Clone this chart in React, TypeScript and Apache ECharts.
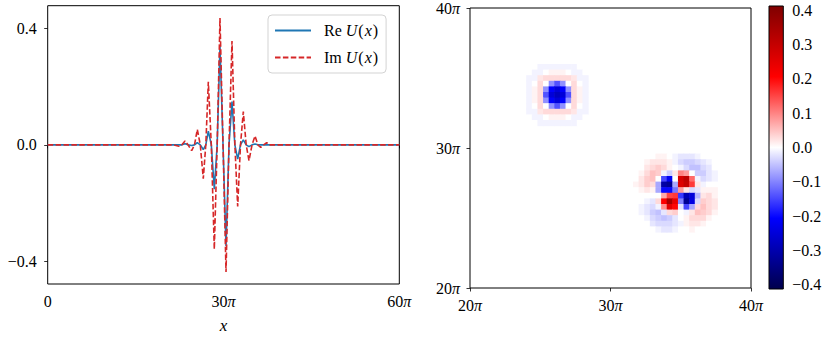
import React, { useEffect, useRef } from 'react';
import * as echarts from 'echarts';

// ---- line panel data (x in units of π) ----
const xPi = [0, 21.5, 22.4, 22.9, 23.43, 23.95, 24.57, 25.05, 25.53, 26.04, 26.55, 26.98, 27.41, 27.92, 28.43, 28.92, 29.4, 29.92, 30.43, 30.94, 31.45, 31.94, 32.42, 32.9, 33.38, 33.87, 34.35, 34.87, 35.38, 35.87, 36.35, 36.86, 37.37, 37.9, 38.5, 60];
const reU = [0, 0, 0, 0, 0.004, 0, -0.002, 0, 0.008, 0, -0.016, 0, 0.047, 0, -0.152, 0, 0.339, 0, -0.347, 0, 0.148, 0, -0.049, 0, 0.017, 0, -0.006, 0, 0.003, 0, 0, 0, 0, 0, 0, 0];
const imU = [0, 0, -0.005, 0, 0.013, 0, -0.02, 0, 0.053, 0, -0.116, 0, 0.216, 0, -0.358, 0, 0.435, 0, -0.436, 0, 0.356, 0, -0.211, 0, 0.114, 0, -0.054, 0, 0.03, 0, -0.009, 0, 0.008, 0, 0, 0];
const lineYTicks = [-0.4, 0, 0.4];
const lineYRange = [-0.477, 0.477];
const lineXRange = [0, 60];

// ---- map panel data (values in hundredths, grid step 0.4π) ----
const cellStep = 0.4;
const blobCenter = [26.2, 33.8];
const blobRows = [
  [0, 0, -1, -1, -1, -1, -1, -1, -1, 0, 0],
  [0, -1, -1, 0, 1, 1, 1, 0, -1, -1, 0],
  [-1, -1, 2, 3, 3, 3, 3, 3, 2, -1, -1],
  [-1, 0, 3, 0, -9, -14, -9, 0, 3, 0, -1],
  [-1, 1, 3, -9, -21, -25, -21, -9, 3, 1, -1],
  [-1, 1, 3, -14, -25, -28, -25, -14, 3, 1, -1],
  [-1, 1, 3, -9, -21, -25, -21, -9, 3, 1, -1],
  [-1, 0, 3, 0, -9, -14, -9, 0, 3, 0, -1],
  [-1, -1, 2, 3, 3, 3, 3, 3, 2, -1, -1],
  [0, -1, -1, 0, 1, 1, 1, 0, -1, -1, 0],
  [0, 0, -1, -1, -1, -1, -1, -1, -1, 0, 0],
];
const quadCenter = [34.6, 27.0];
const quadRows = [
  [0, 0, 0, 0, 0, 0, 0, 0, 0, 0, 0, 0, 0, 0, 0],
  [0, 0, 0, 0, 1, 1, 0, -1, -2, -2, -2, -1, 0, 0, 0],
  [0, 0, 1, 2, 2, 2, 1, -1, -3, -4, -4, -3, -2, -1, 0],
  [0, 0, 2, 3, 4, 3, 1, 0, -1, -3, -5, -5, -3, -2, 0],
  [0, 1, 3, 5, 4, -1, -4, 2, 10, 8, 0, -4, -4, -2, -1],
  [0, 2, 4, 5, 0, -15, -22, 0, 27, 31, 12, -1, -3, -2, -1],
  [1, 2, 4, 3, -7, -31, -33, -7, 26, 30, 16, 2, -1, 0, 0],
  [0, 1, 2, 1, -7, -20, -20, -11, 8, 2, -3, -2, 1, 1, 1],
  [0, 0, 0, 0, 0, 7, 15, 16, -16, -29, -25, -6, 2, 3, 1],
  [0, 0, -1, -2, 3, 21, 35, 24, -10, -33, -24, -3, 4, 3, 2],
  [0, -1, -2, -3, -1, 9, 25, 20, -2, -15, -7, 3, 5, 3, 2],
  [0, -1, -2, -4, -5, -2, 3, 4, 0, -1, 2, 5, 4, 3, 1],
  [0, 0, -1, -3, -4, -5, -4, -2, 0, 1, 3, 3, 3, 1, 0],
  [0, 0, 0, -2, -3, -3, -3, -2, -1, 1, 2, 2, 1, 0, 0],
  [0, 0, 0, 0, -1, -2, -2, -1, 0, 0, 1, 0, 0, 0, 0],
];
const mapRange = [20, 40];
const cbarTicks = [-0.4, -0.3, -0.2, -0.1, 0, 0.1, 0.2, 0.3, 0.4];
const cbarRange = [-0.412, 0.412];
const seismic = ['#00004c', '#0000ff', '#ffffff', '#ff0000', '#7f0000'];

const FONT = 'Liberation Serif';

function buildCells(center: number[], rows: number[][]) {
  const out: number[][] = [];
  const half = (rows.length - 1) / 2;
  rows.forEach((row, r) =>
    row.forEach((v, c) => {
      out.push([center[0] + (c - half) * cellStep, center[1] + (half - r) * cellStep, v / 100]);
    })
  );
  return out;
}

const fmtNum = (v: number) => {
  const s = Math.abs(v).toFixed(1);
  return v < -1e-9 ? '\u2212' + s : s;
};
const fmtPi = (v: number) => (v === 0 ? '0' : `${v}{p|\u03c0}`);

export default function App() {
  const ref = useRef<HTMLDivElement>(null);
  useEffect(() => {
    if (!ref.current) return;
    const chart = echarts.init(ref.current, undefined, { renderer: 'svg' });
    const heat = [...buildCells(blobCenter, blobRows), ...buildCells(quadCenter, quadRows)];
    const tick = { show: true, inside: false, length: 3.5, lineStyle: { color: '#000', width: 0.8 } };
    const labelBase = {
      color: '#000',
      fontFamily: FONT,
      fontSize: 16,
      rich: { p: { fontFamily: FONT, fontSize: 16, fontStyle: 'italic', color: '#000' } },
    };
    const grid0 = { left: 47.7, top: 5.7, width: 351.6, height: 283 };
    const grid1 = { left: 470, top: 6, width: 281, height: 282 };
    const grid2 = { left: 769, top: 6, width: 14.3, height: 283 };
    const halfCell = cellStep / 2;
    const option: any = {
      animation: false,
      backgroundColor: '#fff',
      textStyle: { fontFamily: FONT },
      grid: [
        { ...grid0, show: true, borderColor: '#000', borderWidth: 1, backgroundColor: 'transparent' },
        { ...grid1, show: true, borderColor: '#000', borderWidth: 1, backgroundColor: 'transparent' },
        { ...grid2, show: false },
      ],
      xAxis: [
        {
          gridIndex: 0, type: 'value', min: lineXRange[0], max: lineXRange[1], interval: 30,
          axisLine: { show: false }, axisTick: tick, splitLine: { show: false },
          axisLabel: { ...labelBase, margin: 9, formatter: fmtPi },
          name: 'x', nameLocation: 'middle', nameGap: 33,
          nameTextStyle: { fontFamily: FONT, fontSize: 17, fontStyle: 'italic', color: '#000' },
        },
        {
          gridIndex: 1, type: 'value', min: mapRange[0], max: mapRange[1], interval: 10,
          axisLine: { show: false }, axisTick: tick, splitLine: { show: false },
          axisLabel: { ...labelBase, margin: 9, formatter: fmtPi },
        },
        { gridIndex: 2, type: 'value', min: 0, max: 1, show: false },
      ],
      yAxis: [
        {
          gridIndex: 0, type: 'value', min: lineYRange[0], max: lineYRange[1],
          axisLine: { show: false }, splitLine: { show: false },
          axisTick: { ...tick, customValues: lineYTicks },
          axisLabel: { ...labelBase, margin: 11, customValues: lineYTicks, formatter: fmtNum },
        },
        {
          gridIndex: 1, type: 'value', min: mapRange[0], max: mapRange[1], interval: 10,
          axisLine: { show: false }, axisTick: tick, splitLine: { show: false },
          axisLabel: { ...labelBase, margin: 10, formatter: fmtPi },
        },
        {
          gridIndex: 2, type: 'value', position: 'right', min: cbarRange[0], max: cbarRange[1],
          axisLine: { show: false }, splitLine: { show: false },
          axisTick: { ...tick, customValues: cbarTicks },
          axisLabel: { ...labelBase, margin: 9, customValues: cbarTicks, formatter: fmtNum },
        },
      ],
      visualMap: {
        type: 'continuous', show: false, min: cbarRange[0], max: cbarRange[1],
        dimension: 2, seriesIndex: 2, inRange: { color: seismic },
      },
      legend: {
        orient: 'vertical', left: 268, top: 15,
        padding: [6, 8, 6, 6], itemGap: 8, itemWidth: 36, itemHeight: 10,
        backgroundColor: 'rgba(255,255,255,0.8)', borderColor: '#d3d3d3', borderWidth: 1, borderRadius: 4,
        itemStyle: { opacity: 0 },
        data: ['Re U(x)', 'Im U(x)'],
        formatter: (name: string) =>
          `{g|}{r|${name.slice(0, 2)}}{i|U}{r|(}{x|x}{r|)}`,
        textStyle: {
          fontFamily: FONT, fontSize: 16, color: '#000', lineHeight: 19,
          rich: {
            g: { width: 8 },
            r: { fontFamily: FONT, fontSize: 16, color: '#000' },
            i: { fontFamily: FONT, fontSize: 16, fontStyle: 'italic', color: '#000', padding: [0, 1, 0, 4] },
            x: { fontFamily: FONT, fontSize: 16, fontStyle: 'italic', color: '#000', padding: [0, 1, 0, 1] },
          },
        },
      },
      series: [
        {
          name: 'Re U(x)', type: 'line', xAxisIndex: 0, yAxisIndex: 0,
          data: xPi.map((x, i) => [x, reU[i]]), symbol: 'none', showSymbol: false,
          lineStyle: { color: '#1f77b4', width: 1.6 }, itemStyle: { color: '#1f77b4' },
        },
        {
          name: 'Im U(x)', type: 'line', xAxisIndex: 0, yAxisIndex: 0,
          data: xPi.map((x, i) => [x, imU[i]]), symbol: 'none', showSymbol: false,
          lineStyle: { color: '#d62728', width: 1.6, type: [5.5, 2.4] }, itemStyle: { color: '#d62728' },
        },
        {
          type: 'custom', xAxisIndex: 1, yAxisIndex: 1, data: heat, clip: true, silent: true,
          encode: { x: 0, y: 1 },
          renderItem: (_params: any, api: any) => {
            const x = api.value(0);
            const y = api.value(1);
            const p0 = api.coord([x - halfCell, y + halfCell]);
            const p1 = api.coord([x + halfCell, y - halfCell]);
            return {
              type: 'rect',
              shape: { x: p0[0], y: p0[1], width: p1[0] - p0[0] + 0.6, height: p1[1] - p0[1] + 0.6 },
              style: { fill: api.visual('color') },
            };
          },
        },
      ],
      graphic: [
        {
          type: 'rect', z: 10,
          shape: { x: grid2.left, y: grid2.top, width: grid2.width, height: grid2.height },
          style: {
            fill: new echarts.graphic.LinearGradient(0, 1, 0, 0, seismic.map((c, i) => ({ offset: i / (seismic.length - 1), color: c }))),
            stroke: '#000', lineWidth: 1,
          },
        },
      ],
    };
    chart.setOption(option);
    return () => chart.dispose();
  }, []);
  return <div ref={ref} style={{ position: 'fixed', left: 0, top: 0, width: 831, height: 339 }} />;
}
